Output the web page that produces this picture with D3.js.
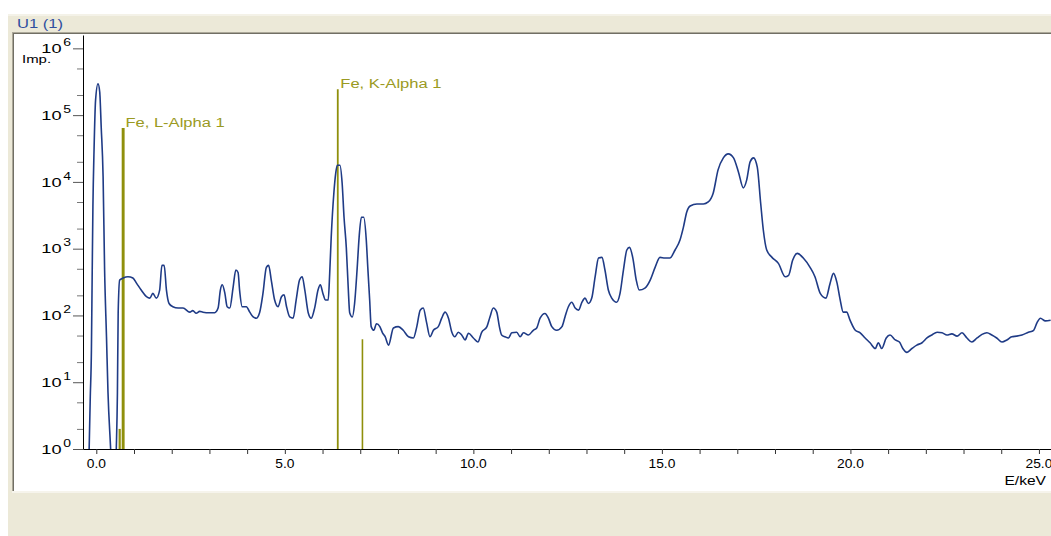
<!DOCTYPE html>
<html>
<head>
<meta charset="utf-8">
<script src="https://cdn.jsdelivr.net/npm/d3@7"></script>
<style>
  html, body { margin: 0; padding: 0; background: #ffffff; }
  svg { display: block; }
  text { font-family: "Liberation Sans", Arial, sans-serif; }
</style>
</head>
<body>
<script>
// ---------- data ----------
const energy = [
  -0.20, -0.19, -0.16, -0.13, -0.11, -0.09, -0.06, -0.02, 0.045, 0.09, 0.13, 0.18, 0.22, 0.27, 0.31, 0.38,
  0.42, 0.50, 0.53, 0.56, 0.58, 0.62, 0.71, 0.84, 0.97, 1.07, 1.19, 1.33, 1.42, 1.50, 1.59, 1.68,
  1.74, 1.80, 1.86, 1.93, 2.03, 2.17, 2.30, 2.48, 2.56, 2.65, 2.74, 2.83, 3.00, 3.14, 3.23, 3.29,
  3.34, 3.41, 3.47, 3.54, 3.63, 3.70, 3.76, 3.80, 3.87, 3.98, 4.07, 4.16, 4.24, 4.33, 4.42, 4.51,
  4.57, 4.64, 4.73, 4.82, 4.91, 4.98, 5.04, 5.13, 5.22, 5.30, 5.39, 5.46, 5.53, 5.62, 5.70, 5.79,
  5.88, 5.94, 6.01, 6.08, 6.15, 6.19, 6.23, 6.30, 6.35, 6.39, 6.46, 6.52, 6.57, 6.63, 6.68, 6.72,
  6.79, 6.85, 6.92, 6.97, 7.03, 7.09, 7.16, 7.20, 7.25, 7.29, 7.36, 7.43, 7.52, 7.59, 7.66, 7.75,
  7.88, 8.01, 8.14, 8.28, 8.41, 8.50, 8.59, 8.67, 8.76, 8.85, 8.94, 9.07, 9.16, 9.25, 9.34, 9.43,
  9.51, 9.60, 9.69, 9.78, 9.87, 10.00, 10.12, 10.22, 10.36, 10.44, 10.53, 10.62, 10.69, 10.75, 10.84, 10.93,
  11.02, 11.15, 11.24, 11.33, 11.46, 11.59, 11.68, 11.77, 11.90, 11.99, 12.08, 12.21, 12.35, 12.43, 12.52, 12.61,
  12.70, 12.79, 12.88, 12.96, 13.05, 13.14, 13.23, 13.32, 13.41, 13.49, 13.58, 13.67, 13.80, 13.89, 13.98, 14.07,
  14.14, 14.23, 14.32, 14.40, 14.55, 14.69, 14.82, 14.95, 15.08, 15.21, 15.35, 15.48, 15.57, 15.66, 15.75, 15.93,
  16.10, 16.23, 16.36, 16.49, 16.63, 16.76, 16.90, 17.03, 17.16, 17.25, 17.34, 17.43, 17.53, 17.62, 17.69, 17.78,
  17.92, 18.09, 18.27, 18.36, 18.47, 18.59, 18.75, 18.93, 19.06, 19.20, 19.35, 19.46, 19.55, 19.64, 19.73, 19.81,
  19.90, 19.99, 20.13, 20.26, 20.39, 20.52, 20.66, 20.74, 20.83, 20.95, 21.05, 21.19, 21.30, 21.39, 21.50, 21.63,
  21.76, 21.90, 22.03, 22.16, 22.30, 22.43, 22.56, 22.69, 22.83, 22.96, 23.09, 23.22, 23.36, 23.49, 23.62, 23.75,
  23.88, 24.02, 24.15, 24.28, 24.41, 24.55, 24.72, 24.86, 24.95, 25.04, 25.17, 25.31
];
const impulses = [
  0.5, 1, 6, 30, 380, 4270, 30200, 166000, 295000, 224000, 66000, 12000, 480, 48, 7, 1,
  0.3, 0.3, 1, 7, 110, 339, 363, 380, 363, 302, 240, 191, 182, 214, 182, 240,
  562, 562, 240, 151, 135, 129, 129, 112, 118, 108, 115, 112, 110, 110, 129, 240,
  288, 214, 135, 129, 269, 479, 440, 240, 135, 135, 112, 95, 91, 110, 214, 525,
  562, 339, 170, 135, 191, 204, 140, 95, 91, 170, 339, 380, 240, 110, 91, 129,
  240, 288, 214, 170, 170, 427, 1479, 6761, 13490, 17783, 17783, 9550, 2951, 1047, 269, 110,
  95, 151, 525, 1479, 2951, 2951, 1349, 525, 170, 68, 60, 75, 68, 55, 48, 36,
  65, 68, 60, 48, 46, 68, 120, 129, 78, 48, 60, 68, 91, 112, 91, 56,
  48, 56, 51, 43, 54, 46, 40, 56, 68, 95, 129, 112, 68, 51, 48, 46,
  55, 56, 48, 55, 51, 60, 65, 91, 107, 91, 68, 60, 68, 95, 135, 158,
  129, 120, 158, 182, 151, 182, 380, 724, 741, 479, 240, 182, 158, 214, 479, 955,
  1047, 724, 339, 240, 257, 339, 525, 741, 724, 724, 955, 1349, 2089, 3548, 4365, 4677,
  4677, 5012, 6761, 15136, 22909, 26303, 22909, 14125, 8128, 10715, 19953, 22909, 16596, 4786, 1905, 955,
  741, 603, 380, 398, 676, 851, 724, 525, 380, 214, 182, 302, 427, 316, 170, 112,
  112, 85, 60, 55, 46, 39, 32, 39, 32, 46, 51, 43, 40, 32, 28, 32,
  36, 39, 46, 51, 56, 55, 51, 53, 49, 55, 46, 40, 46, 52, 55, 51,
  46, 40, 43, 48, 49, 51, 56, 60, 78, 91, 83, 85
];

// element line markers
const lineEnergies = [0.62, 0.705, 0.718, 6.404, 7.058];
const lineHeights  = [2, 64000, 64000, 245000, 44];
const lineLabels   = ["", "Fe, L-Alpha 1", "", "Fe, K-Alpha 1", ""];
const lineWidths   = [2.2, 2.4, 2.4, 1.8, 1.6];

// axis ticks
const yTickExps = [0, 1, 2, 3, 4, 5, 6];
const yMinorTicks = [2, 5, 20, 50, 200, 500, 2000, 5000, 20000, 50000, 200000, 500000];
const xTicks = d3.range(0, 26, 1);
const xLabelTicks = [0, 5, 10, 15, 20, 25];

const windowTitle = "U1 (1)";
const yAxisTitle = "Imp.";
const xAxisTitle = "E/keV";

// ---------- layout ----------
const W = 1051, H = 536;
const plotLeft = 83, plotRight = 1051, plotTop = 35, plotBottom = 449;
const SX = 1.38; // horizontal text stretch seen in the reference

const svg = d3.select("body").append("svg").attr("width", W).attr("height", H);

// window chrome
svg.append("rect").attr("x", 0).attr("y", 0).attr("width", W).attr("height", H).attr("fill", "#ffffff");
svg.append("rect").attr("x", 8).attr("y", 14).attr("width", W - 8).attr("height", H - 14).attr("fill", "#ECE9D8");
svg.append("rect").attr("x", 8).attr("y", 14).attr("width", W - 8).attr("height", 2).attr("fill", "#F4F2E8");
svg.append("text").attr("transform", `translate(17,28) scale(${SX},1)`)
  .attr("font-size", 12).attr("fill", "#2F4F9F").text(windowTitle);

// plot panel
svg.append("rect").attr("x", 12).attr("y", 32).attr("width", W - 12).attr("height", 460).attr("fill", "#ffffff");
svg.append("line").attr("x1", 12).attr("x2", W).attr("y1", 32.5).attr("y2", 32.5).attr("stroke", "#ACA899");
svg.append("line").attr("x1", 13).attr("x2", W).attr("y1", 33.5).attr("y2", 33.5).attr("stroke", "#716F64");
svg.append("line").attr("x1", 12.5).attr("x2", 12.5).attr("y1", 32).attr("y2", 492).attr("stroke", "#ACA899");
svg.append("line").attr("x1", 13.5).attr("x2", 13.5).attr("y1", 33).attr("y2", 492).attr("stroke", "#716F64");
svg.append("rect").attr("x", 12).attr("y", 491).attr("width", W - 12).attr("height", 2).attr("fill", "#F6F4EC");

// scales
const x = d3.scaleLinear().domain([-0.353, 25.32]).range([plotLeft, plotRight]);
const y = d3.scaleLog().domain([1, Math.pow(10, 6.2)]).range([plotBottom, plotTop]);

// clip
svg.append("clipPath").attr("id", "clip").append("rect")
  .attr("x", plotLeft).attr("y", plotTop).attr("width", plotRight - plotLeft).attr("height", plotBottom - plotTop);

const plot = svg.append("g").attr("clip-path", "url(#clip)");

// element lines (drawn under the spectrum)
const lines = lineEnergies.map((e, i) => ({ e, h: lineHeights[i], label: lineLabels[i], w: lineWidths[i] }));
plot.selectAll("line.marker").data(lines).join("line")
  .attr("class", "marker")
  .attr("x1", d => x(d.e)).attr("x2", d => x(d.e))
  .attr("y1", y(1) + 2).attr("y2", d => y(d.h))
  .attr("stroke", "#8F8F0C").attr("stroke-width", d => d.w);

// spectrum
const pts = energy.map((e, i) => [e, impulses[i]]);
const lineGen = d3.line()
  .x(d => x(d[0]))
  .y(d => Math.min(plotBottom + 40, y(Math.max(d[1], 0.01))))
  .curve(d3.curveMonotoneX);
plot.append("path").datum(pts)
  .attr("d", lineGen)
  .attr("fill", "none").attr("stroke", "#1F3B86").attr("stroke-width", 1.6)
  .attr("stroke-linejoin", "round");

// marker labels
svg.selectAll("text.mlabel").data(lines.filter(d => d.label)).join("text")
  .attr("class", "mlabel")
  .attr("transform", d => `translate(${x(d.e) + 2.5},${y(d.h) - 1.5}) scale(${SX},1)`)
  .attr("font-size", 12).attr("fill", "#9A9A22")
  .text(d => d.label);

// y axis
const yAxisMajor = d3.axisLeft(y).tickValues(yTickExps.map(k => Math.pow(10, k)))
  .tickSize(10).tickSizeOuter(0).tickFormat("");
const gy = svg.append("g").attr("transform", `translate(${plotLeft},0)`).call(yAxisMajor);
gy.select(".domain").attr("stroke", "#000");
gy.selectAll(".tick line").attr("stroke", "#555");
const yAxisMinor = d3.axisLeft(y).tickValues(yMinorTicks).tickSize(6).tickSizeOuter(0).tickFormat("");
const gy2 = svg.append("g").attr("transform", `translate(${plotLeft},0)`).call(yAxisMinor);
gy2.select(".domain").remove();
gy2.selectAll(".tick line").attr("stroke", "#777");

const yl = svg.selectAll("text.ylab").data(yTickExps).join("text")
  .attr("class", "ylab")
  .attr("transform", k => `translate(71,${y(Math.pow(10, k)) + 4.6}) scale(1.4,1)`)
  .attr("text-anchor", "end").attr("fill", "#000");
yl.append("tspan").attr("font-size", 13).text("10");
yl.append("tspan").attr("font-size", 10).attr("dx", 1.2).attr("dy", -7).text(k => k);

svg.append("text").attr("transform", `translate(22,63) scale(1.3,1)`)
  .attr("font-size", 11.5).attr("fill", "#000").text(yAxisTitle);

// x axis
const xAxis = d3.axisBottom(x).tickValues(xTicks).tickSize(5).tickSizeOuter(0).tickFormat("");
const gx = svg.append("g").attr("transform", `translate(0,${plotBottom})`).call(xAxis);
gx.select(".domain").attr("stroke", "#000");
gx.selectAll(".tick line").attr("stroke", "#333");

svg.selectAll("text.xlab").data(xLabelTicks).join("text")
  .attr("class", "xlab")
  .attr("transform", v => `translate(${x(v)},467.5) scale(1.15,1)`)
  .attr("text-anchor", "middle").attr("font-size", 12).attr("fill", "#000")
  .text(v => d3.format(".1f")(v));

svg.append("text").attr("transform", `translate(1046,485) scale(1.3,1)`)
  .attr("text-anchor", "end").attr("font-size", 12).attr("fill", "#000").text(xAxisTitle);
</script>
</body>
</html>
